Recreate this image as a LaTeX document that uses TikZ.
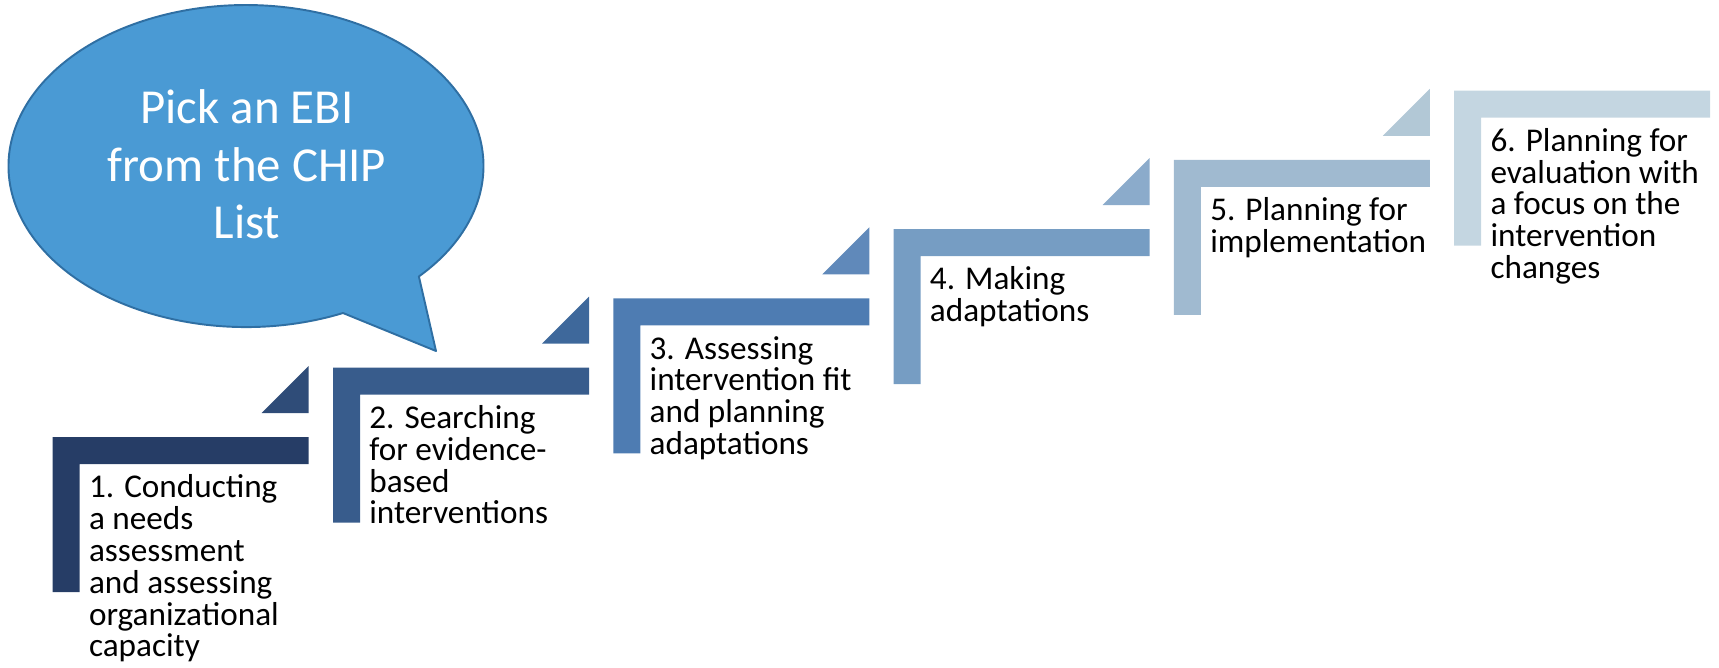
\documentclass[tikz,border=0pt]{standalone}
\usepackage{fontspec}
\setmainfont{Carlito}

\definecolor{bubblefill}{HTML}{4A9AD4}
\definecolor{bubbleline}{HTML}{2F6FA3}
\definecolor{barA}{HTML}{263D66}
\definecolor{barB}{HTML}{385C8C}
\definecolor{barC}{HTML}{4E7CB2}
\definecolor{barD}{HTML}{769DC3}
\definecolor{barE}{HTML}{A0BAD0}
\definecolor{barF}{HTML}{C4D6E1}
\definecolor{triA}{HTML}{2F4C78}
\definecolor{triB}{HTML}{3E689B}
\definecolor{triC}{HTML}{6089BA}
\definecolor{triD}{HTML}{8BABCB}
\definecolor{triE}{HTML}{B2C8D6}

\begin{document}
\begin{tikzpicture}
    [x = 0.02cm, y = -0.02cm,
     steptext/.style = {anchor = north west, inner sep = 0pt, align = left,
       font = \fontsize{18.9}{18.1}\selectfont,
       execute at begin node = \rule{0pt}{14pt}},
     bubbletext/.style = {anchor = north, inner sep = 0pt, align = center, text = white,
       font = \fontsize{27.8}{32.7}\selectfont,
       execute at begin node = \rule{0pt}{22pt}}]
    \useasboundingbox (0,0) rectangle (1719,667);
    % speech bubble
    \filldraw[fill = bubblefill, draw = bubbleline, line width = 1.1pt, line join = round]
      (436,351) -- (343,313)
      arc[start angle = 65.9, end angle = 403.3, x radius = 237.5, y radius = 161] -- cycle;
    \node[bubbletext] (pick) at (247,89.3) {Pick an EBI\\from the CHIP\\List};
    % steps
    \foreach \k/\col in {0/barA,1/barB,2/barC,3/barD,4/barE,5/barF}
      \fill[\col] ({52.7+280.3*\k},{437-69.3*\k}) -- ++(256,0) -- ++(0,27)
        -- ++(-229,0) -- ++(0,128) -- ++(-27,0) -- cycle;
    \foreach \k/\col in {0/triA,1/triB,2/triC,3/triD,4/triE}
      \fill[\col] ({52.7+280.3*\k+209},{437-69.3*\k-24}) -- ++(47,0) -- ++(0,-47) -- cycle;
    \node[steptext] (step1) at (88.7,474.4) {1. Conducting\\a needs\\assessment\\and assessing\\organizational\\capacity};
    \node[steptext] (step2) at (369,405.1) {2. Searching\\for evidence-\\based\\interventions};
    \node[steptext] (step3) at (649.3,335.8) {3. Assessing\\intervention fit\\and planning\\adaptations};
    \node[steptext] (step4) at (929.6,266.5) {4. Making\\adaptations};
    \node[steptext] (step5) at (1209.9,197.2) {5. Planning for\\implementation};
    \node[steptext] (step6) at (1490.2,127.9) {6. Planning for\\evaluation with\\a focus on the\\intervention\\changes};
\end{tikzpicture}
\end{document}
